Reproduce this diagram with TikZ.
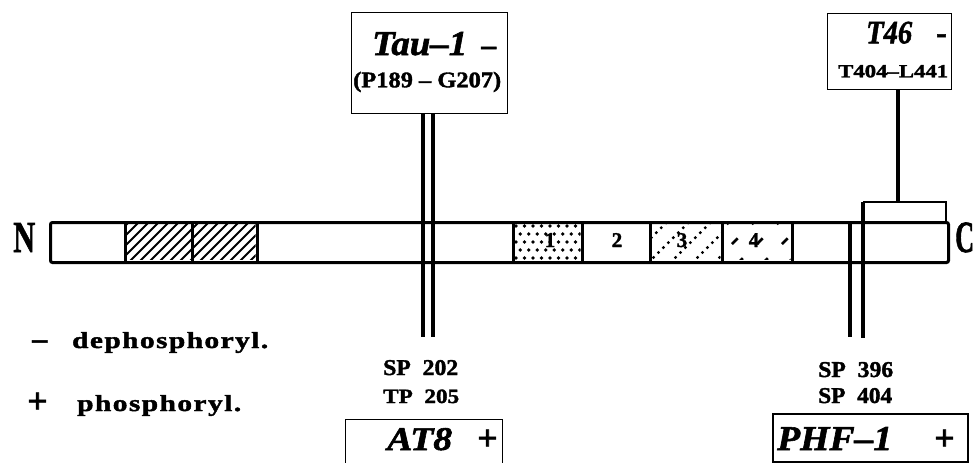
\documentclass[tikz,border=0pt]{standalone}
\usepackage{fontspec}
\setmainfont{Liberation Serif}[BoldFeatures={FakeBold=1.6}, BoldItalicFeatures={FakeBold=1.6}]
\usepackage{graphicx}
\newcommand{\fitto}[3]{\resizebox{#1pt}{#2pt}{#3}}
\tikzset{
  txt/.style={inner sep=0pt, anchor=base west, font=\bfseries\fontsize{20}{24}\selectfont},
  thinbox/.style={draw, line width=1.4pt, inner sep=0pt, anchor=north west},
  heavy/.style={line width=3pt},
  link/.style={line width=3.2pt},
  hatch/.style={line width=2.1pt},
  numlab/.style={inner sep=0pt, anchor=base, font=\bfseries\fontsize{21}{24}\selectfont},
  bigsign/.style={inner sep=0pt, anchor=base west, font=\bfseries\fontsize{36}{40}\selectfont}
}
\begin{document}
\begin{tikzpicture}[x=1pt,y=-1pt]
\useasboundingbox (0,0) rectangle (975,463);

% ---- boxes ----
\node[thinbox, minimum width=156pt, minimum height=101pt] (taubox) at (351,12) {};
\node[thinbox, minimum width=124pt, minimum height=76pt] (t46box) at (827,13) {};
\node[thinbox, minimum width=157pt, minimum height=70pt] (at8box) at (345,419) {};
\node[thinbox, line width=1.8pt, minimum width=195pt, minimum height=48pt] (phfbox) at (772,413) {};

% ---- the bar ----
\node[draw, line width=3pt, rounded corners=2pt, inner sep=0pt, anchor=north west,
      minimum width=898pt, minimum height=40pt] (bar) at (49,221) {};

% hatched repeats
\begin{scope}
  \clip (126.5,222.5) rectangle (191,259.5);
  \foreach \x in {70,80,...,200} \draw[hatch] (\x,261) -- (\x+40,221);
\end{scope}
\begin{scope}
  \clip (194,222.5) rectangle (255.5,259.5);
  \foreach \x in {140,150,...,260} \draw[hatch] (\x,261) -- (\x+40,221);
\end{scope}
% box 1 dots
\begin{scope}
  \clip (514.5,222.5) rectangle (580.5,259.5);
  \foreach \r in {0,...,4}{
    \foreach \c in {0,...,8}{
      \pgfmathsetmacro\xx{516+\c*8.5+mod(\r,2)*4.25}
      \pgfmathsetmacro\yy{226+\r*8}
      \fill (\xx,\yy) circle[radius=1.8pt];
    }
  }
\end{scope}
% box 3 dotted diagonals
\begin{scope}
  \clip (651.5,222.5) rectangle (720.5,259.5);
  \foreach \x in {606,628,...,720}
    \draw[line width=3.4pt, line cap=round, dash pattern=on 0pt off 7pt, dash phase=2pt] (\x,261) -- (\x+40,221);
\end{scope}
% box 4 dashed diagonals
\begin{scope}
  \clip (723.5,222.5) rectangle (790.5,259.5);
  \foreach \x in {690,715,...,790}
    \draw[line width=2.6pt, dash pattern=on 8pt off 20pt, dash phase=4pt] (\x,261) -- (\x+40,221);
\end{scope}

% separators
\foreach \x in {125,192.5,257,513,582,650,722,792}
  \draw[heavy] (\x,221) -- (\x,261);

% repeat numbers
\node[numlab] (r1) at (550,247) {1};
\node[numlab] (r2) at (617,247) {2};
\node[numlab] (r3) at (682,247) {3};
\node[numlab] (r4) at (754,247) {4};

% C-terminal box
\coordinate (cbl) at (863,221);
\coordinate (ctl) at (863,202);
\coordinate (ctr) at (946,202);
\coordinate (cbr) at (946,221);
\draw[line width=2.6pt] (ctl) -- (ctr) -- (cbr);

% ---- connectors ----
\coordinate (tauA) at (423,113);
\coordinate (tauB) at (433,113);
\coordinate (tauAe) at (423,337);
\coordinate (tauBe) at (433,337);
\draw[link] (tauA) -- (tauAe);
\draw[link] (tauB) -- (tauBe);

\coordinate (t46s) at (898,89);
\coordinate (t46e) at (898,202);
\draw[link] (t46s) -- (t46e);

\coordinate (phfA) at (850,221);
\coordinate (phfAe) at (850,337);
\coordinate (phfBe) at (863,338);
\draw[link] (phfA) -- (phfAe);
\draw[link] (ctl) -- (phfBe);

% ---- texts ----
\node[txt] (tau1) at (372,55) {\fitto{95}{23}{\itshape Tau–1}};
\node[txt, font=\bfseries\fontsize{30}{32}\selectfont] (taudash) at (481,55) {–};
\node[txt] (taurange) at (353,87.3) {\fitto{148}{15.5}{(P189 – G207)}};

\node[txt] (t46) at (866,43.3) {\fitto{46}{21.6}{\itshape T46}};
\node[txt, font=\bfseries\fontsize{32}{34}\selectfont] (t46dash) at (936,43.3) {-};
\node[txt] (t46range) at (838,77.3) {\fitto{110}{12.3}{T404–L441}};

\node[txt] (sp202) at (383,375) {\fitto{75}{15}{SP\hspace{0.5em}202}};
\node[txt] (tp205) at (383,403) {\fitto{76}{13.5}{TP\hspace{0.5em}205}};
\node[txt] (sp396) at (818,377) {\fitto{75}{15}{SP\hspace{0.5em}396}};
\node[txt] (sp404) at (818,403) {\fitto{74}{15}{SP\hspace{0.5em}404}};

\node[txt] (at8) at (387,450) {\fitto{65}{22}{\itshape AT8}};
\node[bigsign] (at8plus) at (477,450) {+};
\node[txt] (phf1) at (777,450) {\fitto{115}{23}{\itshape PHF–1}};
\node[bigsign] (phfplus) at (934,450) {+};

\node[txt] (nterm) at (13,252) {\fitto{22}{29}{N}};
\node[txt] (cterm) at (955,252) {\fitto{19}{29.5}{C}};

% legend
\node[txt, font=\bfseries\fontsize{30}{32}\selectfont] (legminus) at (32,348.5) {–};
\node[txt] (legdeph) at (72,348) {\fitto{196}{16}{\addfontfeature{LetterSpace=5}dephosphoryl.}};
\node[bigsign] (legplus) at (27,413) {+};
\node[txt] (legph) at (77,411) {\fitto{164}{16}{\addfontfeature{LetterSpace=5}phosphoryl.}};
\end{tikzpicture}
\end{document}
